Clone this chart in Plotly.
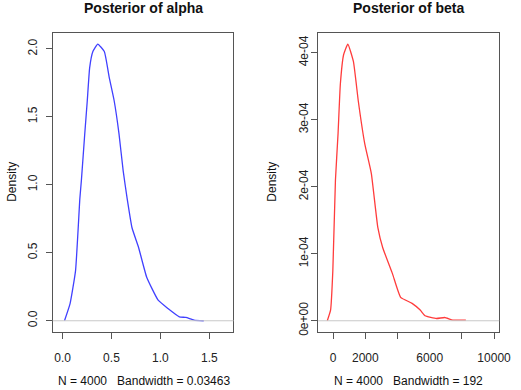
import plotly.graph_objects as go

# Posterior of alpha density
alpha_x = [0.02, 0.077, 0.133, 0.177, 0.193, 0.227, 0.253, 0.277, 0.31, 0.36, 0.427, 0.477, 0.527, 0.577, 0.62, 0.66, 0.71, 0.777, 0.86, 0.977, 1.077, 1.193, 1.26, 1.343, 1.443]
alpha_y = [0.0, 0.126, 0.369, 0.90, 1.036, 1.375, 1.62, 1.86, 1.98, 2.035, 1.98, 1.79, 1.62, 1.375, 1.10, 0.90, 0.684, 0.539, 0.32, 0.151, 0.09, 0.029, 0.024, 0.005, 0.0]

# Posterior of beta density
beta_x = [-365, -162, -20, 142, 304, 446, 648, 912, 1258, 1562, 1965, 2371, 2778, 3082, 3690, 4195, 4905, 5410, 5714, 6425, 6930, 7437, 8248]
beta_y = [0.0, 0.158e-4, 0.75e-4, 2.10e-4, 2.79e-4, 3.53e-4, 3.97e-4, 4.13e-4, 3.87e-4, 3.28e-4, 2.64e-4, 2.20e-4, 1.39e-4, 1.09e-4, 0.70e-4, 0.35e-4, 0.26e-4, 0.16e-4, 0.074e-4, 0.034e-4, 0.049e-4, 0.01e-4, 0.01e-4]

alpha_xticks = [0.0, 0.5, 1.0, 1.5]
alpha_xticktext = ["0.0", "0.5", "1.0", "1.5"]
alpha_yticks = [0.0, 0.5, 1.0, 1.5, 2.0]
alpha_yticktext = ["0.0", "0.5", "1.0", "1.5", "2.0"]
beta_xticks = [0, 2000, 4000, 6000, 8000, 10000]
beta_xticktext = ["0", "2000", "", "6000", "", "10000"]
beta_yticks = [0, 1e-4, 2e-4, 3e-4, 4e-4]
beta_yticktext = ["0e+00", "1e-04", "2e-04", "3e-04", "4e-04"]

FONT = "Liberation Sans, Arial, sans-serif"
AXC = "#555555"

fig = go.Figure()
fig.add_trace(go.Scatter(x=alpha_x, y=alpha_y, mode="lines", line=dict(color="#4040ff", width=1.3, shape="spline", smoothing=0.4),
                         xaxis="x", yaxis="y", showlegend=False, hoverinfo="skip"))
fig.add_trace(go.Scatter(x=beta_x, y=beta_y, mode="lines", line=dict(color="#ff3c3c", width=1.3, shape="spline", smoothing=0.4),
                         xaxis="x2", yaxis="y2", showlegend=False, hoverinfo="skip"))

W, H = 521, 390
ydom = [1 - 335.6 / H, 1 - 33 / H]

axis_common = dict(showline=True, mirror=True, linecolor=AXC, linewidth=1, ticks="outside", ticklen=6,
                   tickcolor=AXC, showgrid=False, zeroline=False, ticklabeloverflow="allow",
                   tickfont=dict(family=FONT, size=12, color="#222"))

fig.update_layout(
    width=W, height=H, margin=dict(l=0, r=0, t=0, b=0),
    paper_bgcolor="white", plot_bgcolor="white",
    xaxis=dict(domain=[54 / W, 239 / W], range=[-0.1, 1.747], tickvals=alpha_xticks, ticktext=alpha_xticktext,
               anchor="y", ticklabelstandoff=8, **axis_common),
    yaxis=dict(domain=ydom, range=[-0.084, 2.119], tickvals=alpha_yticks, ticktext=alpha_yticktext,
               anchor="x", tickangle=-90, ticklabelstandoff=4, **axis_common),
    xaxis2=dict(domain=[325.7 / W, 511 / W], range=[-930, 10322], tickvals=beta_xticks, ticktext=beta_xticktext,
                anchor="y2", ticklabelstandoff=8, **axis_common),
    yaxis2=dict(domain=ydom, range=[-0.17e-4, 4.3e-4], tickvals=beta_yticks, ticktext=beta_yticktext,
                anchor="x2", tickangle=-90, ticklabelstandoff=-2, **axis_common),
)

# zero lines (gray) across plot width
for xr, yr in (("x domain", "y"), ("x2 domain", "y2")):
    fig.add_shape(type="line", xref=xr, yref=yr, x0=0, x1=1, y0=0, y1=0, line=dict(color="#c8c8c8", width=1.2))

ann = []
ann.append(dict(text="<b>Posterior of alpha</b>", x=147 / W, y=1 - 8 / H, font=dict(size=14)))
ann.append(dict(text="<b>Posterior of beta</b>", x=418 / W, y=1 - 8 / H, font=dict(size=14)))
ann.append(dict(text="N = 4000   Bandwidth = 0.03463", x=147 / W, y=1 - 385 / H, font=dict(size=12)))
ann.append(dict(text="N = 4000   Bandwidth = 192", x=418 / W, y=1 - 385 / H, font=dict(size=12)))
ann.append(dict(text="Density", x=12 / W, y=1 - 184 / H, textangle=-90, font=dict(size=12)))
ann.append(dict(text="Density", x=279 / W, y=1 - 184 / H, textangle=-90, font=dict(size=12)))
for a in ann:
    a.update(xref="paper", yref="paper", showarrow=False, xanchor="center", yanchor="middle")
    a["font"].update(family=FONT, color="#111")
    fig.add_annotation(**a)

fig.write_html("out.html")
